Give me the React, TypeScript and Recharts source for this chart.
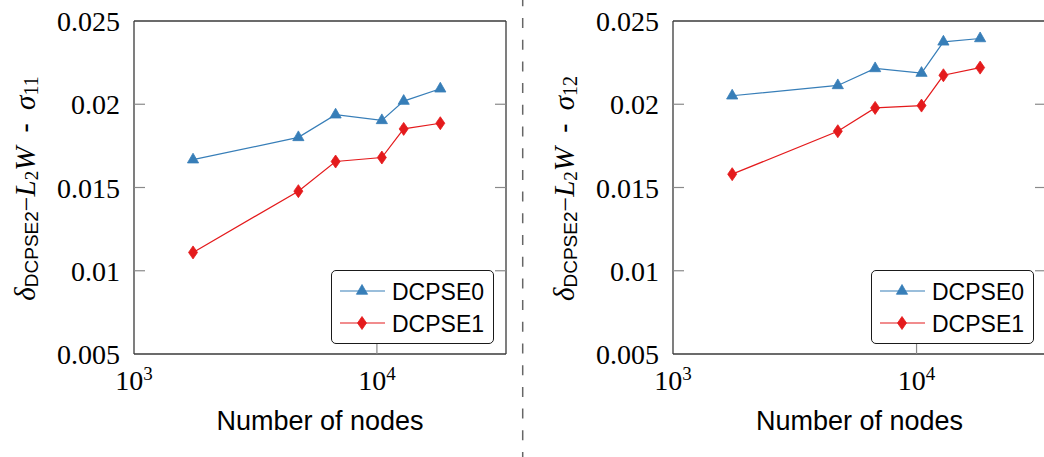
import React from "react";
import { LineChart, Line, XAxis, YAxis, Legend, Label } from "recharts";

// number of nodes (shared by both panels)
const NODES = [1750, 4750, 6760, 10480, 12890, 18240];

// sigma_11 panel
const S11_DCPSE0 = [0.01667, 0.01801, 0.01937, 0.01903, 0.02019, 0.02093];
const S11_DCPSE1 = [0.0111, 0.01478, 0.01656, 0.0168, 0.01852, 0.01886];

// sigma_12 panel
const S12_DCPSE0 = [0.02051, 0.02113, 0.02215, 0.02187, 0.02375, 0.02395];
const S12_DCPSE1 = [0.0158, 0.01838, 0.01978, 0.01992, 0.02174, 0.0222];

const SERIES_NAMES = ["DCPSE0", "DCPSE1"];
const X_TICKS = [1000, 10000];
const X_EXP = ["3", "4"];
const Y_TICKS = [0.005, 0.01, 0.015, 0.02, 0.025];
const X_DOMAIN = [1000, 34000];
const Y_DOMAIN = [0.005, 0.025];

const BLUE = "#377eb8";
const RED = "#e41a1c";
const SERIF = "'Liberation Serif', 'DejaVu Serif', serif";
const SANS = "'Liberation Sans', 'DejaVu Sans', sans-serif";
const FRAME = { stroke: "#3a3a3a", strokeWidth: 1.3 };
const TICK_GRAY = "#8a8a8a";
const TICK_LEN = 11;

function triangle(cx: number, cy: number, color: string) {
  return (
    <path
      d={`M${cx},${cy - 6.5} L${cx + 5.6},${cy + 3.25} L${cx - 5.6},${cy + 3.25} Z`}
      fill={color}
      stroke={color}
      strokeWidth={0.8}
    />
  );
}

function diamond(cx: number, cy: number, color: string) {
  return (
    <path
      d={`M${cx},${cy - 6.5} L${cx + 4.5},${cy} L${cx},${cy + 6.5} L${cx - 4.5},${cy} Z`}
      fill={color}
      stroke={color}
      strokeWidth={0.8}
    />
  );
}

const MARKERS = [triangle, diamond];

const serifText = { fontFamily: SERIF, fontSize: 28 };

const leftTick = (p: any) => {
  const v = p.payload.value;
  const end = v === Y_DOMAIN[0] || v === Y_DOMAIN[1];
  return (
    <g>
      {!end && <line x1={p.x} x2={p.x + TICK_LEN} y1={p.y} y2={p.y} stroke={TICK_GRAY} strokeWidth={1.2} />}
      <text x={p.x - 14} y={p.y} dy="0.36em" textAnchor="end" fill="#000" style={serifText}>
        {String(v)}
      </text>
    </g>
  );
};

const rightTick = (p: any) => {
  const v = p.payload.value;
  const end = v === Y_DOMAIN[0] || v === Y_DOMAIN[1];
  if (end) return <g />;
  return <line x1={p.x} x2={p.x - TICK_LEN} y1={p.y} y2={p.y} stroke={TICK_GRAY} strokeWidth={1.2} />;
};

const bottomTick = (p: any) => {
  const v = p.payload.value;
  const i = X_TICKS.indexOf(v);
  return (
    <g>
      {v !== X_DOMAIN[0] && (
        <line x1={p.x} x2={p.x} y1={p.y} y2={p.y - TICK_LEN} stroke={TICK_GRAY} strokeWidth={1.2} />
      )}
      <text x={p.x} y={p.y + 36} textAnchor="middle" fill="#000" style={serifText}>
        <tspan>10</tspan>
        <tspan dy={-10} style={{ fontSize: 19 }}>{X_EXP[i]}</tspan>
      </text>
    </g>
  );
};

const topTick = (p: any) => {
  const v = p.payload.value;
  if (v === X_DOMAIN[0]) return <g />;
  return <line x1={p.x} x2={p.x} y1={p.y} y2={p.y + TICK_LEN} stroke={TICK_GRAY} strokeWidth={1.2} />;
};

function XTitle(props: any) {
  const vb = props.viewBox;
  return (
    <text
      x={vb.x + vb.width / 2}
      y={vb.y + 76}
      textAnchor="middle"
      fill="#000"
      style={{ fontFamily: SANS, fontSize: 27 }}
    >
      Number of nodes
    </text>
  );
}

function YTitle({ viewBox, sub }: any) {
  const x = viewBox.x - 39;
  const y = viewBox.y + viewBox.height / 2 + 1;
  const it = { fontStyle: "italic" as const };
  return (
    <text
      transform={`translate(${x},${y}) rotate(-90)`}
      textAnchor="middle"
      fill="#000"
      style={{ fontFamily: SERIF, fontSize: 29, whiteSpace: "pre" }}
    >
      <tspan style={it}>δ</tspan>
      <tspan dy={3} style={{ fontFamily: SANS, fontSize: 19 }}>DCPSE2</tspan>
      <tspan dy={-3} style={{ fontSize: 26 }}>−</tspan>
      <tspan style={it}>L</tspan>
      <tspan dy={3} style={{ fontSize: 19 }}>2</tspan>
      <tspan dy={-3} style={it}>W</tspan>
      <tspan dx={6} style={{ fontFamily: SANS }}> - </tspan>
      <tspan dx={5} style={it}>σ</tspan>
      <tspan dy={3} style={{ fontSize: 20 }}>{sub}</tspan>
    </text>
  );
}

function LegendBox(props: any) {
  const payload = props.payload || [];
  return (
    <div
      style={{
        width: 163,
        height: 74,
        boxSizing: "border-box",
        border: "1.3px solid #1a1a1a",
        borderRadius: 5,
        background: "#fff",
      }}
    >
      <svg width={161} height={72} style={{ display: "block" }}>
        {payload.map((entry: any, i: number) => {
          const cy = 20 + i * 32;
          const mark = MARKERS[i] || triangle;
          return (
            <g key={entry.value}>
              <line x1={8} x2={53} y1={cy} y2={cy} stroke={entry.color} strokeWidth={1.2} />
              {mark(30, cy, entry.color)}
              <text x={60} y={cy + 8.5} fill="#000" style={{ fontFamily: SANS, fontSize: 23 }}>
                {entry.value}
              </text>
            </g>
          );
        })}
      </svg>
    </div>
  );
}

interface PanelProps {
  left: number;
  width: number;
  marginLeft: number;
  d0: number[];
  d1: number[];
  sub: string;
}

function Panel({ left, width, marginLeft, d0, d1, sub }: PanelProps) {
  const data = NODES.map((n, i) => ({ n, d0: d0[i], d1: d1[i] }));
  const plotRight = width - 14;
  return (
    <div style={{ position: "absolute", left, top: 0 }}>
      <LineChart
        width={width}
        height={457}
        data={data}
        margin={{ top: 20, right: 13, bottom: 63, left: marginLeft }}
      >
        <XAxis
          dataKey="n"
          type="number"
          scale="log"
          domain={X_DOMAIN}
          ticks={X_TICKS}
          allowDataOverflow
          interval={0}
          height={40}
          tickSize={0}
          tickMargin={0}
          tickLine={false}
          axisLine={FRAME}
          tick={bottomTick}
        >
          <Label content={XTitle} />
        </XAxis>
        <XAxis
          xAxisId="top"
          orientation="top"
          type="number"
          scale="log"
          domain={X_DOMAIN}
          ticks={X_TICKS}
          allowDataOverflow
          interval={0}
          height={1}
          tickSize={0}
          tickMargin={0}
          tickLine={false}
          axisLine={FRAME}
          tick={topTick}
        />
        <YAxis
          type="number"
          domain={Y_DOMAIN}
          ticks={Y_TICKS}
          allowDataOverflow
          interval={0}
          width={60}
          tickSize={0}
          tickMargin={0}
          tickLine={false}
          axisLine={FRAME}
          tick={leftTick}
        >
          <Label content={(p: any) => <YTitle viewBox={p.viewBox} sub={sub} />} />
        </YAxis>
        <YAxis
          yAxisId="right"
          orientation="right"
          type="number"
          domain={Y_DOMAIN}
          ticks={Y_TICKS}
          allowDataOverflow
          interval={0}
          width={1}
          tickSize={0}
          tickMargin={0}
          tickLine={false}
          axisLine={FRAME}
          tick={rightTick}
        />
        <Legend
          layout="vertical"
          align="center"
          verticalAlign="middle"
          content={LegendBox}
          wrapperStyle={{ left: plotRight - 12 - 163, top: 270, width: 163, height: 74 }}
        />
        <Line
          dataKey="d0"
          name={SERIES_NAMES[0]}
          type="linear"
          stroke={BLUE}
          strokeWidth={1.2}
          dot={(p: any) => <g key={p.index}>{triangle(p.cx, p.cy, BLUE)}</g>}
          activeDot={false}
          isAnimationActive={false}
        />
        <Line
          dataKey="d1"
          name={SERIES_NAMES[1]}
          type="linear"
          stroke={RED}
          strokeWidth={1.2}
          dot={(p: any) => <g key={p.index}>{diamond(p.cx, p.cy, RED)}</g>}
          activeDot={false}
          isAnimationActive={false}
        />
      </LineChart>
    </div>
  );
}

export default function App() {
  return (
    <div
      style={{
        position: "absolute",
        left: 0,
        top: 0,
        width: 1044,
        height: 457,
        overflow: "hidden",
        background: "#fff",
      }}
    >
      <Panel left={0} width={520} marginLeft={74} d0={S11_DCPSE0} d1={S11_DCPSE1} sub="11" />
      <svg width={8} height={457} style={{ position: "absolute", left: 519, top: 0 }}>
        <line
          x1={3.7}
          x2={3.7}
          y1={0}
          y2={457}
          stroke="#666"
          strokeWidth={1.5}
          strokeDasharray="10 11.7"
          strokeDashoffset={3.7}
        />
      </svg>
      <Panel left={530} width={530} marginLeft={83} d0={S12_DCPSE0} d1={S12_DCPSE1} sub="12" />
    </div>
  );
}
